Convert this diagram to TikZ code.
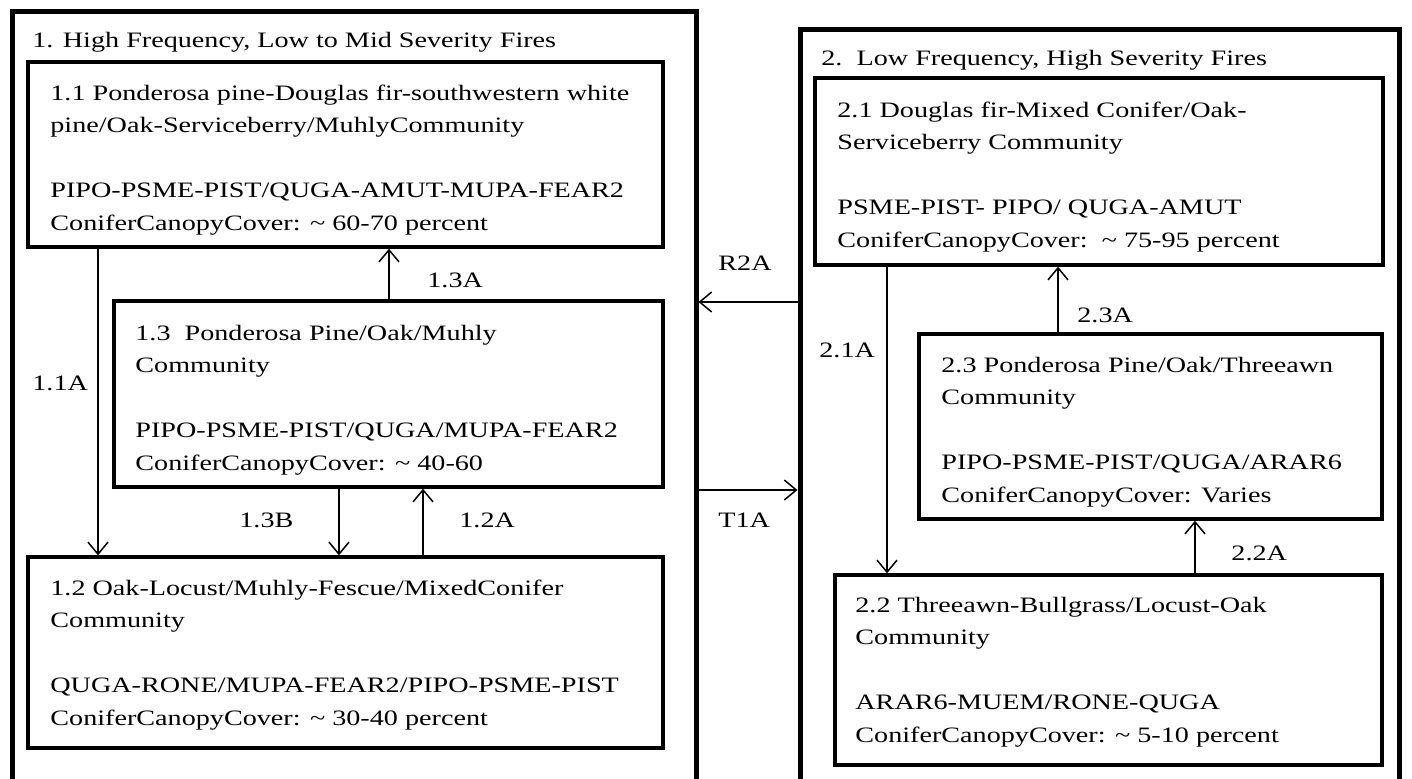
\documentclass[tikz,border=0pt]{standalone}
\usepackage{fontspec}
\setmainfont{Liberation Serif}[FakeStretch=1.28]
\usetikzlibrary{arrows.meta}
\newcommand{\mylines}[1]{\begin{tabular}[t]{@{}l@{}}#1\end{tabular}}
\newcommand{\tld}{\textasciitilde}
\begin{document}
\begin{tikzpicture}[x=0.5pt,y=-0.5pt,
  outerbox/.style={draw, line width=2.5pt, inner sep=0},
  inbox/.style={draw, line width=1.7pt, inner sep=0},
  txt/.style={anchor=base west, inner sep=0, font=\fontsize{11}{16.25}\selectfont},
  lbl/.style={anchor=base west, inner sep=0, font=\fontsize{11}{13}\selectfont},
  arr/.style={line width=0.75pt, -{Straight Barb[length=6pt,width=10pt]}}]
\useasboundingbox (0,0) rectangle (1412,778);
% outer boxes (their bottom edges run past the lower border)
\node[outerbox, minimum width=341.75pt, minimum height=389.5pt] (o1) at (354.25,400.5) {};
\node[outerbox, minimum width=299.5pt, minimum height=380.5pt] (o2) at (1099.5,409.5) {};
% inner boxes
\node[inbox, minimum width=317.5pt, minimum height=92.5pt] (b11) at (345.5,154.5) {};
\node[inbox, minimum width=274.5pt, minimum height=93pt] (b13) at (388.5,394) {};
\node[inbox, minimum width=317.5pt, minimum height=95.5pt] (b12) at (345.5,652.5) {};
\node[inbox, minimum width=284pt, minimum height=93.5pt] (b21) at (1099,171.5) {};
\node[inbox, minimum width=231.5pt, minimum height=92.5pt] (b23) at (1150.5,426.5) {};
\node[inbox, minimum width=273.5pt, minimum height=95pt] (b22) at (1108.5,670) {};
% titles
\node[txt] (t1) at (32,47) {1. High Frequency, Low to Mid Severity Fires};
\node[txt] (t2) at (821,65) {2.\ \ Low Frequency, High Severity Fires};
% box texts
\node[txt] (x11) at (50,100) {\mylines{1.1 Ponderosa pine-Douglas fir-southwestern white\\
pine/Oak-Serviceberry/MuhlyCommunity\\ \\
PIPO-PSME-PIST/QUGA-AMUT-MUPA-FEAR2\\
ConiferCanopyCover: \tld{} 60-70 percent}};
\node[txt] (x13) at (135,340) {\mylines{1.3\ \ Ponderosa Pine/Oak/Muhly\\
Community\\ \\
PIPO-PSME-PIST/QUGA/MUPA-FEAR2\\
ConiferCanopyCover: \tld{} 40-60}};
\node[txt] (x12) at (50,595) {\mylines{1.2 Oak-Locust/Muhly-Fescue/MixedConifer\\
Community\\ \\
QUGA-RONE/MUPA-FEAR2/PIPO-PSME-PIST\\
ConiferCanopyCover: \tld{} 30-40 percent}};
\node[txt] (x21) at (837,117) {\mylines{2.1 Douglas fir-Mixed Conifer/Oak-\\
Serviceberry Community\\ \\
PSME-PIST- PIPO/ QUGA-AMUT\\
ConiferCanopyCover:\ \ \tld{} 75-95 percent}};
\node[txt] (x23) at (941,372) {\mylines{2.3 Ponderosa Pine/Oak/Threeawn\\
Community\\ \\
PIPO-PSME-PIST/QUGA/ARAR6\\
ConiferCanopyCover: Varies}};
\node[txt] (x22) at (855,612) {\mylines{2.2 Threeawn-Bullgrass/Locust-Oak\\
Community\\ \\
ARAR6-MUEM/RONE-QUGA\\
ConiferCanopyCover: \tld{} 5-10 percent}};
% connector x/y positions
\coordinate (c11A) at (98,0);
\coordinate (c13A) at (389,0);
\coordinate (c13B) at (339,0);
\coordinate (c12A) at (423,0);
\coordinate (c21A) at (887,0);
\coordinate (c23A) at (1058,0);
\coordinate (c22A) at (1195,0);
\coordinate (cR2A) at (0,302);
\coordinate (cT1A) at (0,490);
% connectors
\draw[arr] (b11.south -| c11A) -- (b12.north -| c11A);
\draw[arr] (b13.north -| c13A) -- (b11.south -| c13A);
\draw[arr] (b13.south -| c13B) -- (b12.north -| c13B);
\draw[arr] (b12.north -| c12A) -- (b13.south -| c12A);
\draw[arr] (b21.south -| c21A) -- (b22.north -| c21A);
\draw[arr] (b23.north -| c23A) -- (b21.south -| c23A);
\draw[arr] (b22.north -| c22A) -- (b23.south -| c22A);
\draw[arr] (o2.west |- cR2A) -- (o1.east |- cR2A);
\draw[arr] (o1.east |- cT1A) -- (o2.west |- cT1A);
% labels
\node[lbl] (l13A) at (427,287) {1.3A};
\node[lbl] (l11A) at (32,390) {1.1A};
\node[lbl] (l13B) at (239,527) {1.3B};
\node[lbl] (l12A) at (459,527) {1.2A};
\node[lbl] (lR2A) at (718,270) {R2A};
\node[lbl] (lT1A) at (718,527) {T1A};
\node[lbl] (l21A) at (819,357) {2.1A};
\node[lbl] (l23A) at (1077,322) {2.3A};
\node[lbl] (l22A) at (1231,560) {2.2A};
\end{tikzpicture}
\end{document}
